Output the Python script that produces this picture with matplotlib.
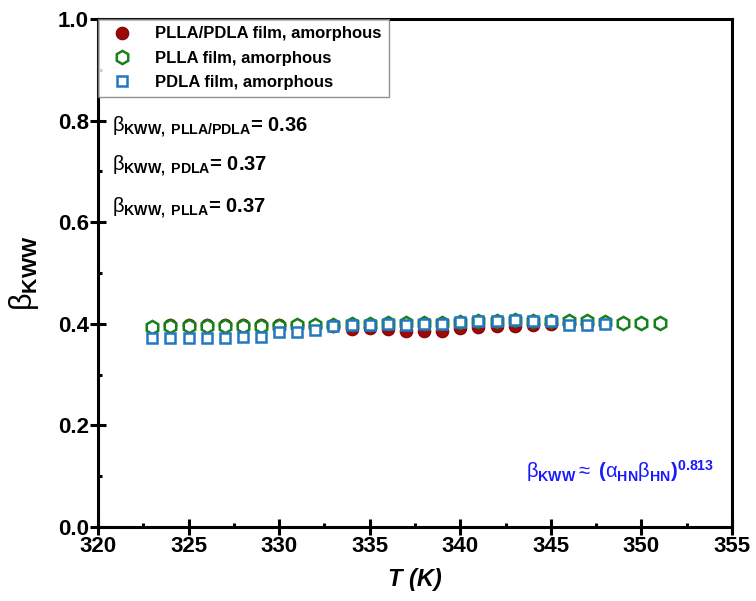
import matplotlib
matplotlib.use("Agg")
import matplotlib.pyplot as plt
from matplotlib.ticker import MultipleLocator

plt.rcParams['font.family'] = ['Liberation Sans', 'DejaVu Sans']
plt.rcParams['mathtext.fontset'] = 'custom'
plt.rcParams['mathtext.rm'] = 'Liberation Sans'
plt.rcParams['mathtext.it'] = 'Liberation Sans:italic'
plt.rcParams['mathtext.bf'] = 'Liberation Sans:bold'

# Data
T_blend = list(range(324, 348))
beta_blend = [0.397, 0.397, 0.397, 0.397, 0.397, 0.397, 0.397, 0.397, 0.396, 0.396,
              0.390, 0.391, 0.389, 0.386, 0.386, 0.386, 0.391, 0.394, 0.396, 0.396,
              0.398, 0.400, 0.400, 0.400]

T_plla = list(range(323, 352))
beta_plla = [0.394, 0.396, 0.396, 0.396, 0.396, 0.396, 0.396, 0.396, 0.397, 0.397,
             0.398, 0.399, 0.400, 0.401, 0.401, 0.401, 0.401, 0.404, 0.406, 0.406,
             0.407, 0.406, 0.406, 0.405, 0.405, 0.403, 0.402, 0.402, 0.402]

T_pdla = list(range(323, 349))
beta_pdla = [0.372, 0.372, 0.372, 0.372, 0.373, 0.375, 0.375, 0.383, 0.383, 0.388,
             0.396, 0.398, 0.398, 0.400, 0.398, 0.400, 0.400, 0.404, 0.406, 0.406,
             0.407, 0.406, 0.406, 0.398, 0.398, 0.400]

labels = ["PLLA/PDLA film, amorphous", "PLLA film, amorphous", "PDLA film, amorphous"]
x_ticks = [320, 325, 330, 335, 340, 345, 350, 355]
y_ticks = [0.0, 0.2, 0.4, 0.6, 0.8, 1.0]

fig = plt.figure(figsize=(7.56, 6.01), dpi=100)
ax = fig.add_axes([0.1296, 0.1231, 0.8387, 0.8453])

ax.plot(T_blend, beta_blend, 'o', ms=9, color='#9a0a0a', mec='#8a0000', mew=0.8,
        label=labels[0], zorder=3)
ax.plot(T_plla, beta_plla, 'h', ms=9.5, mfc='white', mec='#17801a', mew=1.8,
        label=labels[1], zorder=4)
ax.plot(T_pdla, beta_pdla, 's', ms=7.2, mfc='white', mec='#2278c0', mew=1.8,
        label=labels[2], zorder=5)

ax.set_xlim(320, 355)
ax.set_ylim(0.0, 1.0)
ax.set_xticks(x_ticks)
ax.set_yticks(y_ticks)
ax.set_xticklabels([str(t) for t in x_ticks])
ax.set_yticklabels(["%.1f" % v for v in y_ticks])
ax.xaxis.set_minor_locator(MultipleLocator(2.5))
ax.yaxis.set_minor_locator(MultipleLocator(0.1))

for s in ax.spines.values():
    s.set_linewidth(2.2)
ax.tick_params(which='major', direction='inout', length=11, width=2.2,
               labelsize=16, pad=1)
ax.tick_params(which='minor', direction='in', length=3, width=2.2)
for lab in ax.get_xticklabels() + ax.get_yticklabels():
    lab.set_fontweight('bold')
ax.tick_params(top=False, right=False, which='both')

ax.set_xlabel('T (K)', fontsize=17, fontweight='bold', style='italic', labelpad=8)
ax.set_ylabel(r'$\mathrm{\beta}_{\mathbf{KWW}}$', fontsize=22, labelpad=12)

leg = ax.legend(loc='upper left', bbox_to_anchor=(0.0, 1.0), borderaxespad=0.0,
                prop={'weight': 'bold', 'size': 12},
                frameon=True, fancybox=False, handletextpad=1.0,
                labelspacing=0.55, borderpad=0.45, handlelength=2.0)
leg.get_frame().set_edgecolor('#777777')
leg.get_frame().set_linewidth(1.0)

ann_y = [0.787, 0.709, 0.628]
ann_txt = [r'$\mathrm{\beta}_{\mathbf{KWW,\ PLLA/PDLA}}$= 0.36',
           r'$\mathrm{\beta}_{\mathbf{KWW,\ PDLA}}$= 0.37',
           r'$\mathrm{\beta}_{\mathbf{KWW,\ PLLA}}$= 0.37']
for yy, tt in zip(ann_y, ann_txt):
    ax.text(0.022, yy, tt, transform=ax.transAxes,
            fontsize=14.5, fontweight='bold', va='center', ha='left')

ax.text(0.675, 0.11,
        r'$\mathrm{\beta}_{\mathbf{KWW}}$$\approx$ ($\mathrm{\alpha}_{\mathbf{HN}}\mathrm{\beta}_{\mathbf{HN}}$)$^{\mathbf{0.813}}$',
        transform=ax.transAxes, fontsize=14.5, fontweight='bold', color='#1a1aff',
        va='center', ha='left')

fig.savefig('out.png', dpi=100)
